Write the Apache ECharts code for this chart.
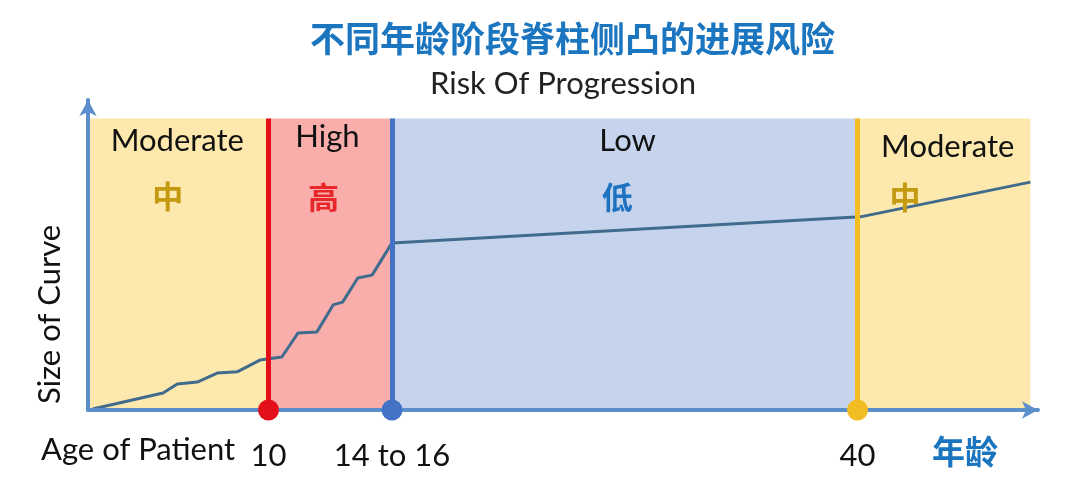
<!DOCTYPE html>
<html><head><meta charset="utf-8">
<script src="https://cdn.jsdelivr.net/npm/echarts@6/dist/echarts.min.js"></script>
<style>html,body{margin:0;padding:0;background:#fff}#c{width:1080px;height:494px}</style>
</head><body><div id="c"></div>
<script>
// curve: [position along age axis (chart units), size of curve (chart units)]
const curveX = [0.5, 7.9, 9.4, 11.5, 13.6, 15.7, 18.1, 20.4, 22.1, 24.1, 25.8, 26.8, 28.4, 29.9, 32.0, 81.3, 99.2];
const curveY = [0.3, 5.5, 8.4, 9.0, 11.9, 12.3, 16.1, 17.1, 24.8, 25.2, 33.9, 34.8, 42.6, 43.5, 53.9, 62.3, 73.5];
// risk zones
const zoneStart = [0, 19, 32, 81];
const zoneEnd = [19, 32, 81, 99.2];
const zoneTop = 94;
const zoneEn = ['Moderate', 'High', 'Low', 'Moderate'];
const zoneZh = ['中', '高', '低', '中'];
// age markers
const markerX = [19, 32, 81];
const markerLabels = ['10', '14 to 16', '40'];

const zoneFill = ['#fde9ad', '#f9aeab', '#c5d4ec', '#fde9ad'];
const zhColor = ['#c39a10', '#e8272b', '#1e73c0', '#c39a10'];
const markerColor = ['#e3101b', '#4472c4', '#f2bd22'];
const enPos = [[9.4, 86.8], [25.2, 88.1], [56.8, 86.8], [90.5, 84.8]];
const zhPos = [[8.4, 69.0], [24.8, 68.7], [55.7, 68.7], [86.0, 68.7]];

const F = 'Lato, "Open Sans", sans-serif';
const CJK = '"Noto Sans CJK SC", sans-serif';
const axisCol = '#5b8fca';

const chart = echarts.init(document.getElementById('c'));
const labelData = [];
zoneEn.forEach((t, i) => labelData.push({value: enPos[i], label: {formatter: t, fontSize: 31, color: '#111', fontFamily: F}}));
zoneZh.forEach((t, i) => labelData.push({value: zhPos[i], label: {formatter: t, fontSize: 31, fontWeight: 'bold', color: zhColor[i], fontFamily: CJK}}));

chart.setOption({
  animation: false,
  title: {
    text: '不同年龄阶段脊柱侧凸的进展风险', left: 305, top: 16,
    textStyle: {fontSize: 35, fontWeight: 'bold', color: '#1b75bf', fontFamily: CJK}
  },
  grid: {left: 88, right: 42, top: 100, bottom: 84},
  xAxis: {
    type: 'value', min: 0, max: 100, z: 5,
    axisLine: {show: true, symbol: ['none', 'arrow'], symbolSize: [13, 16], lineStyle: {color: axisCol, width: 4}},
    axisTick: {show: false}, splitLine: {show: false},
    axisLabel: {
      show: true, customValues: markerX, margin: 30, fontSize: 31, color: '#111', fontFamily: F,
      formatter: v => markerLabels[markerX.indexOf(v)] || ''
    }
  },
  yAxis: {
    type: 'value', min: 0, max: 100, z: 5,
    axisLine: {show: true, symbol: ['none', 'arrow'], symbolSize: [13, 16], lineStyle: {color: axisCol, width: 4}},
    axisTick: {show: false}, splitLine: {show: false}, axisLabel: {show: false}
  },
  graphic: [
    {type: 'text', left: 430, top: 68, style: {text: 'Risk Of Progression', fontSize: 31, fill: '#222', fontFamily: F}},
    {type: 'text', left: 41, top: 434, style: {text: 'Age of Patient', fontSize: 31, fill: '#111', fontFamily: F}},
    {type: 'text', left: 932, top: 435, style: {text: '年龄', fontSize: 33, fontWeight: 'bold', fill: '#1b75bf', fontFamily: CJK}},
    {type: 'text', x: 34, y: 404, rotation: Math.PI / 2, style: {text: 'Size of Curve', fontSize: 31, fill: '#111', fontFamily: F}}
  ],
  series: [
    {
      type: 'line', data: [], silent: true,
      markArea: {
        silent: true,
        data: zoneStart.map((s, i) => [{xAxis: s, yAxis: 0, itemStyle: {color: zoneFill[i], opacity: 1}}, {xAxis: zoneEnd[i], yAxis: zoneTop}])
      }
    },
    {
      type: 'line', z: 3, symbol: 'none',
      data: curveX.map((x, i) => [x, curveY[i]]),
      lineStyle: {color: '#416b8c', width: 3}
    },
    {
      type: 'line', data: [], z: 4,
      markLine: {
        silent: true, symbol: 'none', label: {show: false},
        data: markerX.map((x, i) => [{coord: [x, 0], lineStyle: {color: markerColor[i], width: 5, type: 'solid'}}, {coord: [x, zoneTop]}])
      }
    },
    {
      type: 'scatter', z: 6, clip: false, symbolSize: 21, itemStyle: {opacity: 1},
      data: markerX.map((x, i) => ({value: [x, 0], itemStyle: {color: markerColor[i], opacity: 1}}))
    },
    {
      type: 'scatter', z: 7, symbolSize: 0, silent: true, itemStyle: {opacity: 1},
      label: {show: true, position: 'inside', opacity: 1},
      data: labelData
    }
  ]
});
</script></body></html>
